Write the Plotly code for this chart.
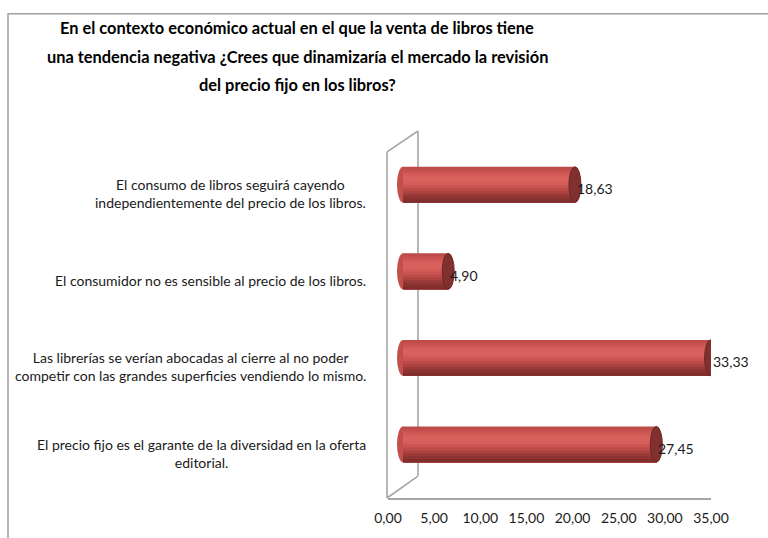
import plotly.graph_objects as go

# Survey answers (percent of respondents)
categories = [
    "El consumo de libros seguirá cayendo<br>independientemente del precio de los libros.",
    "El consumidor no es sensible al precio de los libros.",
    "Las librerías se verían abocadas al cierre al no poder<br>competir con las grandes superficies vendiendo lo mismo.",
    "El precio fijo es el garante de la diversidad en la oferta<br>editorial.",
]
values = [18.63, 4.90, 33.33, 27.45]
x_ticks = [0, 5, 10, 15, 20, 25, 30, 35]
title_lines = [
    "En el contexto económico actual en el que la venta de libros tiene",
    "una tendencia negativa ¿Crees que dinamizaría el mercado la revisión",
    "del precio fijo en los libros?",
]

W, H = 768, 538
L, R, T, B = 388, 57, 130, 38          # plot area: x 388..711, y 130..500
PW, PH = W - L - R, H - T - B
X_MAX = 35
PX_PER_UNIT = PW / X_MAX
DEPTH_SHIFT = 15 / PX_PER_UNIT          # bars sit half-way into the 3D depth
BAR_W = 0.414
CAP_RX = 6 / PX_PER_UNIT

FONT = "Lato, Liberation Sans, Arial, sans-serif"
WALL = "#A6A6A6"


def px_x(px):
    return (px - L) / PW


def px_y(py):
    return (H - B - py) / PH


ypos = list(range(len(values)))
bases = [DEPTH_SHIFT] * len(values)

fig = go.Figure()

# cylinder shading, top to bottom; each layer runs from its slice down to the
# bottom edge so the next one covers it without seams
shade = ["#BC4B49", "#C8524F", "#D25A57", "#D8605D", "#D9615E",
         "#D55D5A", "#CB5552", "#BD4B49", "#AC4341", "#9A3A38",
         "#8B3331", "#7F2E2C"]
n = len(shade)
for k, col in enumerate(shade):
    fig.add_trace(go.Bar(
        x=values, y=ypos, base=bases, orientation="h",
        width=BAR_W * (n - k) / n, offset=-BAR_W / 2 + k * BAR_W / n,
        marker=dict(color=col, line=dict(width=0)),
        hoverinfo="skip", showlegend=False,
    ))

shapes = []
# chart border
shapes.append(dict(type="rect", xref="paper", yref="paper",
                   x0=px_x(8), x1=px_x(790), y0=px_y(13), y1=px_y(560),
                   line=dict(color="#A0A0A0", width=1.5), layer="below"))
# 3D wall outline
wall_segments = [
    ((387, 152), (387, 500)),
    ((387, 152), (418, 131)),
    ((418, 131), (418, 478)),
    ((387, 500), (418, 478)),
]
for (xa, ya), (xb, yb) in wall_segments:
    shapes.append(dict(type="line", xref="paper", yref="paper",
                       x0=px_x(xa), y0=px_y(ya), x1=px_x(xb), y1=px_y(yb),
                       line=dict(color=WALL, width=1.6), layer="below"))

for i, v, b0 in zip(ypos, values, bases):
    # rounded base of the cylinder
    shapes.append(dict(type="circle", xref="x", yref="y",
                       x0=b0 - CAP_RX, x1=b0 + CAP_RX, y0=i - BAR_W / 2, y1=i + BAR_W / 2,
                       fillcolor="#C24F4C", line=dict(width=0), layer="below"))
    # end cap
    shapes.append(dict(type="circle", xref="x", yref="y",
                       x0=b0 + v - CAP_RX, x1=b0 + v + CAP_RX,
                       y0=i - BAR_W / 2, y1=i + BAR_W / 2,
                       fillcolor="#80302E", line=dict(color="#6E2725", width=1), layer="above"))

annotations = []
for i, (cat, v, b0) in enumerate(zip(categories, values, bases)):
    annotations.append(dict(
        text=cat, xref="paper", yref="y", x=px_x(368), y=i,
        xanchor="right", yanchor="middle", align="center", yshift=-9,
        showarrow=False, font=dict(family=FONT, size=14, color="#1A1A1A"),
    ))
    annotations.append(dict(
        text=f"{v:.2f}".replace(".", ","), xref="x", yref="y", x=b0 + v, y=i,
        xanchor="left", yanchor="middle", xshift=0, yshift=-4,
        showarrow=False, font=dict(family=FONT, size=14, color="#1A1A1A"),
    ))

for line, cy in zip(title_lines, [27, 56, 84]):
    annotations.append(dict(
        text=f"<b>{line}</b>", xref="paper", yref="paper",
        x=px_x(297), y=px_y(cy), xanchor="center", yanchor="middle",
        showarrow=False, font=dict(family=FONT, size=16.4, color="#000000"),
    ))

fig.update_layout(
    width=W, height=H,
    margin=dict(l=L, r=R, t=T, b=B, pad=0),
    paper_bgcolor="white", plot_bgcolor="rgba(0,0,0,0)",
    separators=",.",
    barmode="overlay",
    showlegend=False,
    shapes=shapes,
    annotations=annotations,
    xaxis=dict(range=[0, X_MAX], tickvals=x_ticks, tickformat=".2f",
               showgrid=False, zeroline=False,
               showline=True, linecolor=WALL, linewidth=2,
               ticks="outside", ticklen=6, tickcolor="rgba(0,0,0,0)",
               tickfont=dict(family=FONT, size=14, color="#1A1A1A"),
               fixedrange=True),
    yaxis=dict(range=[3.62, -0.632], visible=False, fixedrange=True),
)

fig.write_html("out.html")
